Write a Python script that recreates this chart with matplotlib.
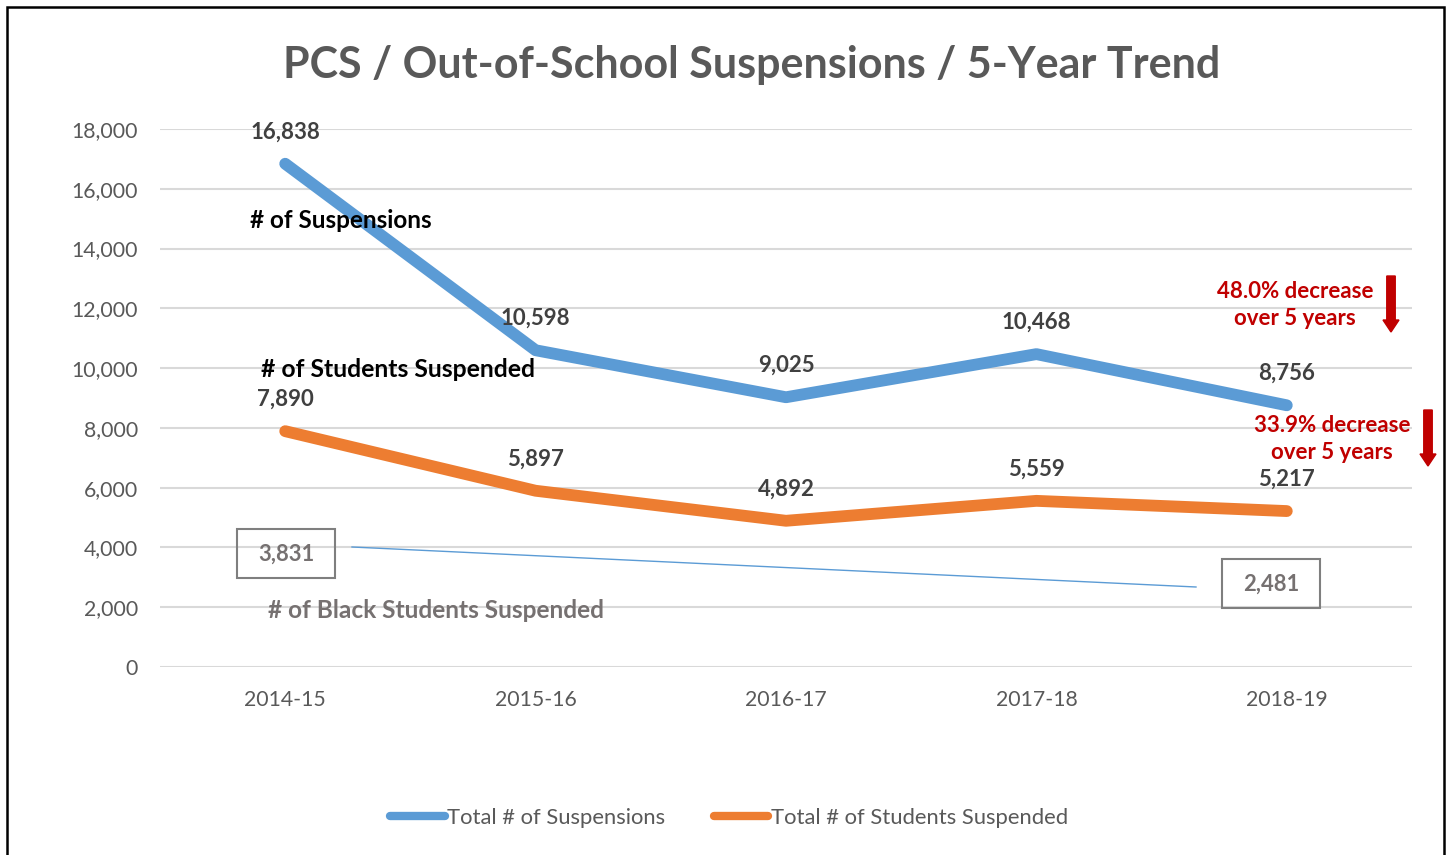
import matplotlib.pyplot as plt
from matplotlib.patches import Rectangle, FancyArrow

years = ['2014-15', '2015-16', '2016-17', '2017-18', '2018-19']
total_suspensions = [16838, 10598, 9025, 10468, 8756]
students_suspended = [7890, 5897, 4892, 5559, 5217]
black_years = ['2014-15', '2018-19']
black_students = [3831, 2481]

W, H = 1449, 855
plt.rcParams['font.family'] = ['Lato', 'DejaVu Sans']

fig = plt.figure(figsize=(W / 100, H / 100), dpi=100)
ax = fig.add_axes([160 / W, 1 - 667 / H, (1412 - 160) / W, (667 - 129) / H])


def fx(px):
    return px / W


def fy(py):
    return 1 - py / H


# outer border
fig.patches.append(Rectangle((fx(7), fy(870)), fx(1444) - fx(7), fy(7) - fy(870),
                             transform=fig.transFigure, fill=False,
                             edgecolor='black', linewidth=1.8))

x = range(len(years))
blue = '#5B9BD5'
orange = '#ED7D31'
ax.plot(x, total_suspensions, color=blue, lw=8.5, solid_capstyle='round',
        solid_joinstyle='round', label='Total # of Suspensions', zorder=3)
ax.plot(x, students_suspended, color=orange, lw=8.5, solid_capstyle='round',
        solid_joinstyle='round', label='Total # of Students Suspended', zorder=3)

for xi, v in zip(x, total_suspensions):
    ax.annotate(f'{v:,}', (xi, v), xytext=(0, 23), textcoords='offset points',
                ha='center', va='center', fontsize=16, fontweight='bold', color='#404040')
for xi, v in zip(x, students_suspended):
    ax.annotate(f'{v:,}', (xi, v), xytext=(0, 23), textcoords='offset points',
                ha='center', va='center', fontsize=16, fontweight='bold', color='#404040')

ax.set_xlim(-0.5, 4.5)
ax.set_ylim(0, 18000)
ax.set_yticks(range(0, 18001, 2000))
ax.set_yticklabels([f'{t:,}' for t in range(0, 18001, 2000)])
ax.set_xticks(list(x))
ax.set_xticklabels(years)
ax.tick_params(length=0, labelsize=15.3, labelcolor='#595959')
ax.tick_params(axis='y', pad=16)
ax.tick_params(axis='x', pad=16.5)
ax.grid(axis='y', color='#D9D9D9', lw=1.5)
ax.set_axisbelow(True)
for s in ax.spines.values():
    s.set_visible(False)

fig.text(fx(752), fy(65), 'PCS / Out-of-School Suspensions / 5-Year Trend',
         ha='center', va='center', fontsize=31, fontweight='bold', color='#595959')

fig.text(fx(341), fy(220), '# of Suspensions', ha='center', va='center',
         fontsize=17.5, fontweight='bold', color='black')
fig.text(fx(398), fy(369), '# of Students Suspended', ha='center', va='center',
         fontsize=17.8, fontweight='bold', color='black')
fig.text(fx(436), fy(610), '# of Black Students Suspended', ha='center', va='center',
         fontsize=17.6, fontweight='bold', color='#767171')

# black students boxes + connector
box_px = [(286, 554), (1271, 584)]
for (bx, by), v in zip(box_px, black_students):
    fig.text(fx(bx), fy(by), f'{v:,}', ha='center', va='center', fontsize=15.8,
             fontweight='bold', color='#767171')
    fig.patches.append(Rectangle((fx(bx - 49), fy(by + 24)), 98 / W, 49 / H,
                                 transform=fig.transFigure, fill=False,
                                 edgecolor='#7F7F7F', linewidth=1.5))
fig.add_artist(plt.Line2D([fx(352), fx(1196)], [fy(547), fy(587)],
                          transform=fig.transFigure, color=blue, lw=1))

red = '#C00000'
fig.text(fx(1295), fy(305), '48.0% decrease\nover 5 years', ha='center', va='center',
         fontsize=16, fontweight='bold', color=red, linespacing=1.4)
fig.text(fx(1332), fy(439), '33.9% decrease\nover 5 years', ha='center', va='center',
         fontsize=16, fontweight='bold', color=red, linespacing=1.4)
for ax_x, y0, y1 in [(1391, 276, 332), (1428, 410, 466)]:
    fig.add_artist(FancyArrow(
        fx(ax_x), fy(y0), 0, fy(y1) - fy(y0), width=5 / H, head_width=16 / W,
        head_length=12 / H, length_includes_head=True, transform=fig.transFigure,
        color=red))

leg = fig.legend(loc='center', bbox_to_anchor=(fx(729), fy(818)), ncol=2, frameon=False,
                 fontsize=15.8, handlelength=2.5, handletextpad=0.1, columnspacing=2.2)
for t in leg.get_texts():
    t.set_color('#595959')
for h in leg.get_lines():
    h.set_linewidth(6)

fig.savefig('out.png', dpi=100)
